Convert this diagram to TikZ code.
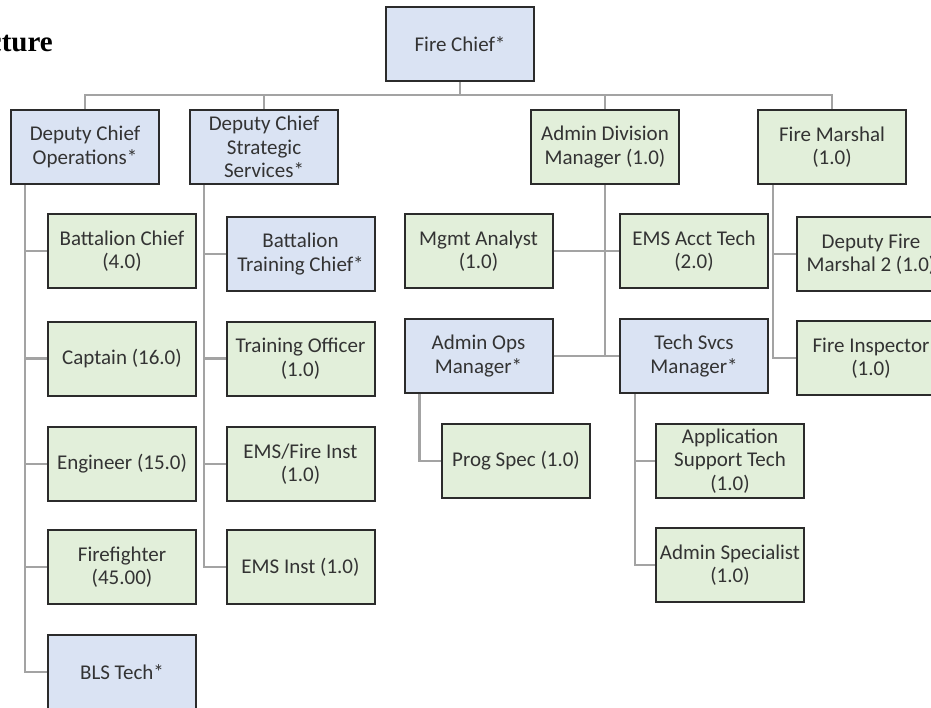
\documentclass[tikz,border=0pt]{standalone}
\usepackage{fontspec}
\setmainfont{Carlito}
\newfontfamily\titlefont{Liberation Serif}
\definecolor{boxblue}{HTML}{DAE3F3}
\definecolor{boxgreen}{HTML}{E2EFDA}
\definecolor{boxline}{HTML}{2B2B2B}
\definecolor{conn}{HTML}{A3A3A3}
\definecolor{txt}{HTML}{333333}
\tikzset{
  orgbox/.style={draw=boxline, line width=2pt, minimum width=148pt, minimum height=74pt,
    inner sep=0pt, align=center, text=txt,
    font=\fontsize{21}{23.5}\selectfont},
  bluebox/.style={orgbox, fill=boxblue},
  greenbox/.style={orgbox, fill=boxgreen},
  link/.style={draw=conn, line width=2.2pt}
}
\begin{document}
\begin{tikzpicture}[x=1pt,y=-1pt]
\useasboundingbox (0,0) rectangle (931,707);
\clip (0,0) rectangle (931,707);
\fill[white] (0,0) rectangle (931,707);

% title fragment
\node[anchor=base east, inner sep=0pt, font=\titlefont\bfseries\fontsize{29}{32}\selectfont] (title) at (53,51) {cture};

% nodes
\node[bluebox] (chief) at (460,44) {Fire Chief*};
\node[bluebox] (dco) at (85,147) {Deputy Chief\\Operations*};
\node[bluebox] (dcss) at (264,147) {Deputy Chief\\Strategic\\Services*};
\node[greenbox] (adm) at (605,147) {Admin Division\\Manager (1.0)};
\node[greenbox] (fm) at (832,147) {Fire Marshal\\(1.0)};

\node[greenbox] (bc) at (122,251) {Battalion Chief\\(4.0)};
\node[greenbox] (cap) at (122,358.5) {Captain (16.0)};
\node[greenbox] (eng) at (122,464) {Engineer (15.0)};
\node[greenbox] (ff) at (122,567) {Firefighter\\(45.00)};
\node[bluebox] (bls) at (122,672) {BLS Tech*};

\node[bluebox] (btc) at (300.5,254) {Battalion\\Training Chief*};
\node[greenbox] (to) at (300.5,358.5) {Training Officer\\(1.0)};
\node[greenbox] (efi) at (300.5,464) {EMS/Fire Inst\\(1.0)};
\node[greenbox] (emsi) at (300.5,567) {EMS Inst (1.0)};

\node[greenbox] (mgmt) at (478.5,251) {Mgmt Analyst\\(1.0)};
\node[greenbox] (emsacct) at (694,251) {EMS Acct Tech\\(2.0)};
\node[bluebox] (aom) at (478.5,356) {Admin Ops\\Manager*};
\node[bluebox] (tsm) at (694,356) {Tech Svcs\\Manager*};
\node[greenbox] (ps) at (516,461) {Prog Spec (1.0)};
\node[greenbox] (ast) at (730,461) {Application\\Support Tech\\(1.0)};
\node[greenbox] (asp) at (730,565) {Admin Specialist\\(1.0)};

\node[greenbox] (dfm) at (871,254) {Deputy Fire\\Marshal 2 (1.0)};
\node[greenbox] (fi) at (871,358) {Fire Inspector\\(1.0)};

% connectors
\coordinate (bus) at (460,95);
\path[link] (chief.south) -- (bus);
\path[link] (dco.north) |- (bus) -| (fm.north);
\path[link] (dcss.north) -- (dcss.north |- bus);
\path[link] (adm.north) -- (adm.north |- bus);

\path[link] ([xshift=15pt]dco.south west) |- (bls.west);
\path[link] ([xshift=15pt]dco.south west |- bc.west) -- (bc.west);
\path[link] ([xshift=15pt]dco.south west |- cap.west) -- (cap.west);
\path[link] ([xshift=15pt]dco.south west |- eng.west) -- (eng.west);
\path[link] ([xshift=15pt]dco.south west |- ff.west) -- (ff.west);

\path[link] ([xshift=15pt]dcss.south west) |- (emsi.west);
\path[link] ([xshift=15pt]dcss.south west |- btc.west) -- (btc.west);
\path[link] ([xshift=15pt]dcss.south west |- to.west) -- (to.west);
\path[link] ([xshift=15pt]dcss.south west |- efi.west) -- (efi.west);

\path[link] (adm.south) -- (adm.south |- aom.east);
\path[link] (mgmt.east) -- (emsacct.west);
\path[link] (aom.east) -- (tsm.west);

\path[link] ([xshift=16pt]aom.south west) |- (ps.west);
\path[link] ([xshift=16pt]tsm.south west) |- (asp.west);
\path[link] ([xshift=16pt]tsm.south west |- ast.west) -- (ast.west);

\path[link] ([xshift=16pt]fm.south west) |- (fi.west);
\path[link] ([xshift=16pt]fm.south west |- dfm.west) -- (dfm.west);
\end{tikzpicture}
\end{document}
